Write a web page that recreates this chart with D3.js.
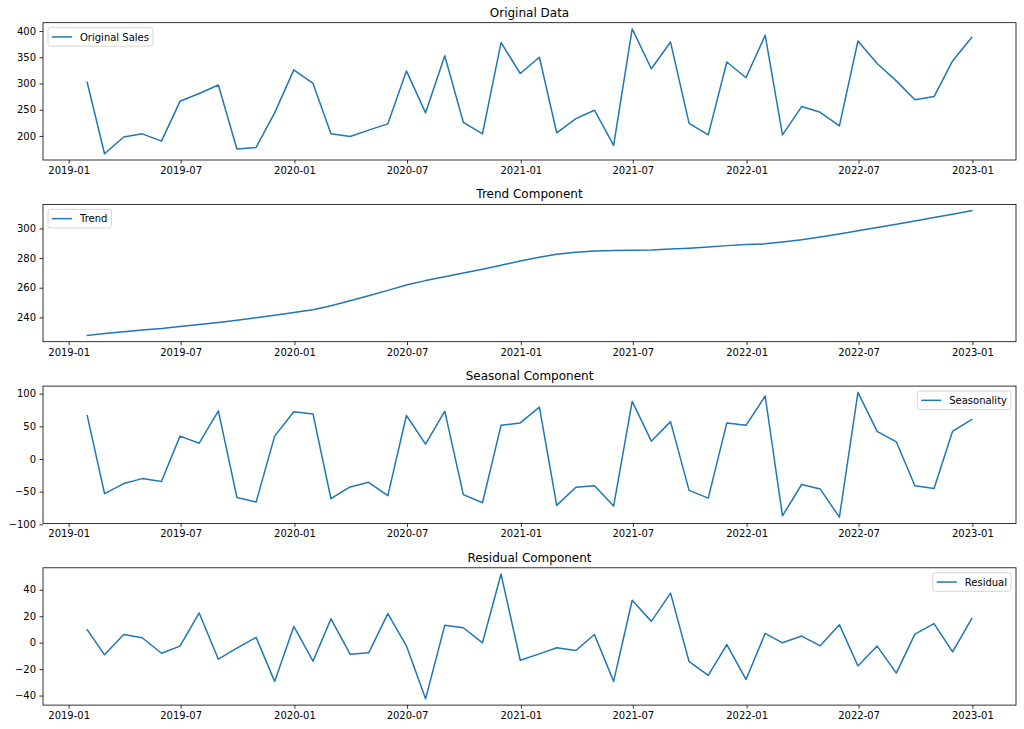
<!DOCTYPE html>
<html>
  <head>
    <meta charset="utf-8">
    <title>Seasonal Decomposition</title>
    <script type="text/javascript" src="https://cdn.jsdelivr.net/npm/d3@7/dist/d3.min.js"></script>
    <style>
      body { margin: 0; background: white; }
      text { font-family: "DejaVu Sans", sans-serif; fill: black; }
    </style>
  </head>
  <body>
    <svg id="chart" width="1024" height="729"></svg>
    <script type="text/javascript">
      // month-end dates of the series
      var dates = [
        "2019-01-31","2019-02-28","2019-03-31","2019-04-30","2019-05-31","2019-06-30",
        "2019-07-31","2019-08-31","2019-09-30","2019-10-31","2019-11-30","2019-12-31",
        "2020-01-31","2020-02-29","2020-03-31","2020-04-30","2020-05-31","2020-06-30",
        "2020-07-31","2020-08-31","2020-09-30","2020-10-31","2020-11-30","2020-12-31",
        "2021-01-31","2021-02-28","2021-03-31","2021-04-30","2021-05-31","2021-06-30",
        "2021-07-31","2021-08-31","2021-09-30","2021-10-31","2021-11-30","2021-12-31",
        "2022-01-31","2022-02-28","2022-03-31","2022-04-30","2022-05-31","2022-06-30",
        "2022-07-31","2022-08-31","2022-09-30","2022-10-31","2022-11-30","2022-12-31"
      ];

      var originalSales = [
        302, 166, 198, 204, 190, 266, 281, 297, 175, 178, 244, 326,
        300, 204, 199, 211, 223, 324, 244, 353, 226, 204, 378, 319,
        350, 206, 233, 249, 182, 404, 328, 379, 224, 202, 341, 311,
        392, 202, 256, 245, 219, 381, 338, 305, 269, 275, 343, 388
      ];

      var trend = [
        227.8, 229.1, 230.3, 231.4, 232.5, 233.9, 235.2, 236.6, 238.1, 239.7, 241.4, 243.3,
        245.1, 247.9, 251.2, 254.6, 258.2, 261.8, 264.8, 267.4, 270.0, 272.5, 275.2, 278.0,
        280.6, 282.6, 284.0, 284.8, 285.1, 285.3, 285.5, 286.1, 286.7, 287.5, 288.4, 289.1,
        289.6, 290.8, 292.4, 294.2, 296.2, 298.4, 300.6, 302.8, 305.0, 307.3, 309.6, 312.0
      ];

      var seasonal = [
        66.5, -53, -37.6, -30, -34.5, 35, 24.2, 73.7, -58.8, -66, 35, 72.2,
        69, -60.8, -42.8, -35.6, -56, 66.5, 22.7, 73.2, -54.6, -67, 51.5, 55.2,
        79.4, -71, -43.3, -41, -72, 88.1, 27.3, 57.2, -48, -59.8, 55.2, 51.5,
        96.4, -87, -39, -46, -89, 102, 42.3, 26.3, -41, -45, 42.3, 60.3
      ];

      var residual = [
        9.8, -9.2, 6.2, 3.7, -8, -2.6, 22.5, -12.5, -4.2, 4, -29.3, 12.3,
        -14, 18, -8.7, -7.7, 22, -2.4, -42.5, 13.1, 11.3, -0.1, 51.9, -13.3,
        -8.5, -3.9, -5.9, 6.2, -29.3, 32.1, 16.1, 37.5, -14.3, -24.7, -1.4, -27.8,
        7, -0.1, 5, -2.4, 13.6, -17.6, -2.6, -23, 6.5, 14.4, -7, 18.2
      ];

      var titles = ["Original Data", "Trend Component", "Seasonal Component", "Residual Component"];
      var labels = ["Original Sales", "Trend", "Seasonality", "Residual"];
      var yTicks = [
        [200, 250, 300, 350, 400],
        [240, 260, 280, 300],
        [-100, -50, 0, 50, 100],
        [-40, -20, 0, 20, 40]
      ];
      var xTicks = ["2019-01-01","2019-07-01","2020-01-01","2020-07-01","2021-01-01",
                    "2021-07-01","2022-01-01","2022-07-01","2023-01-01"];

      function ready(fn) {
        if (document.readyState != 'loading'){ fn() }
        else { document.addEventListener('DOMContentLoaded', fn) }
      }
      ready(function() {
        drawPanels();
      });

      function pad(ext) {
        var m = (ext[1] - ext[0]) * 0.05;
        return [ext[0] - m, ext[1] + m];
      }

      function drawPanels() {
        var svg = d3.select("#chart");
        var parse = d3.timeParse("%Y-%m-%d");
        var fmt = d3.timeFormat("%Y-%m");
        var times = dates.map(parse);
        var series = [originalSales, trend, seasonal, residual];
        var legendRight = [false, false, true, true];

        var left = 43, right = 1016, top0 = 22.7, step = 181.7, h = 137.3;
        var color = "#1f77b4";

        var x = d3.scaleTime()
            .domain(pad(d3.extent(times, function(d) { return +d; })).map(function(v) { return new Date(v); }))
            .range([left, right]);

        series.forEach(function(vals, k) {
          var top = top0 + k * step, bottom = top + h;
          var y = d3.scaleLinear().domain(pad(d3.extent(vals))).range([bottom, top]);
          var g = svg.append("g");

          g.append("text")
            .attr("x", (left + right) / 2).attr("y", top - 6)
            .attr("text-anchor", "middle")
            .style("font-size", "12px")
            .text(titles[k]);

          var clipId = "clip" + k;
          svg.append("clipPath").attr("id", clipId)
            .append("rect").attr("x", left).attr("y", top).attr("width", right - left).attr("height", h);

          var line = d3.line()
            .x(function(d, i) { return x(times[i]); })
            .y(function(d) { return y(d); });

          g.append("path")
            .datum(vals)
            .attr("clip-path", "url(#" + clipId + ")")
            .attr("fill", "none")
            .attr("stroke", color)
            .attr("stroke-width", 1.5)
            .attr("stroke-linejoin", "round")
            .attr("stroke-linecap", "square")
            .attr("d", line);

          // axes
          var xAxis = d3.axisBottom(x)
            .tickValues(xTicks.map(parse))
            .tickFormat(fmt)
            .tickSize(3.5).tickPadding(3.5);
          var gx = g.append("g").attr("transform", "translate(0," + bottom + ")").call(xAxis);

          var yAxis = d3.axisLeft(y)
            .tickValues(yTicks[k])
            .tickFormat(function(d) { return d < 0 ? "\u2212" + Math.abs(d) : d; })
            .tickSize(3.5).tickPadding(3.5);
          var gy = g.append("g").attr("transform", "translate(" + left + ",0)").call(yAxis);

          [gx, gy].forEach(function(ax) {
            ax.select(".domain").remove();
            ax.selectAll(".tick line").attr("stroke", "black").attr("stroke-width", 0.8);
            ax.selectAll(".tick text").style("font-size", "10px").attr("fill", "black");
          });

          g.append("rect")
            .attr("x", left).attr("y", top)
            .attr("width", right - left).attr("height", h)
            .attr("fill", "none")
            .attr("stroke", "black")
            .attr("stroke-width", 0.8);

          // legend
          var tw = labels[k].length * 6.2;
          var textW = measure(svg, labels[k]);
          var lw = 4 + 20 + 8 + textW + 4;
          var lh = 18.5;
          var lx = legendRight[k] ? right - 5 - lw : left + 5;
          var ly = top + 5;
          var lg = g.append("g").attr("transform", "translate(" + lx + "," + ly + ")");
          lg.append("rect")
            .attr("width", lw).attr("height", lh)
            .attr("rx", 2.5).attr("ry", 2.5)
            .attr("fill", "white").attr("fill-opacity", 0.8)
            .attr("stroke", "#cccccc").attr("stroke-width", 0.8);
          lg.append("line")
            .attr("x1", 4).attr("x2", 24)
            .attr("y1", lh / 2).attr("y2", lh / 2)
            .attr("stroke", color).attr("stroke-width", 1.5);
          lg.append("text")
            .attr("x", 32).attr("y", lh / 2 + 3.6)
            .style("font-size", "10px")
            .text(labels[k]);
        });
      }

      function measure(svg, s) {
        var t = svg.append("text").style("font-size", "10px").text(s);
        var w = t.node().getComputedTextLength();
        t.remove();
        return w;
      }
    </script>
  </body>
</html>
